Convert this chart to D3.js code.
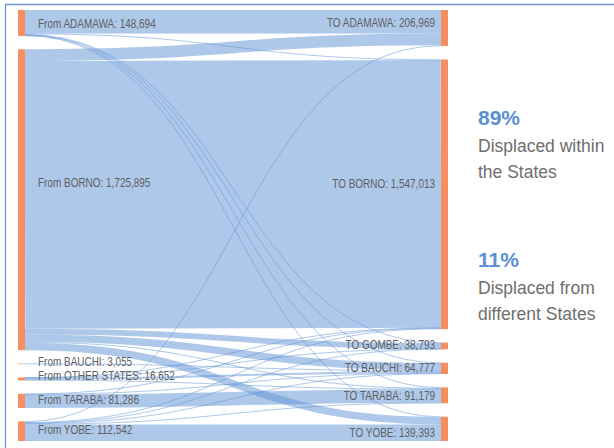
<!DOCTYPE html>
<html>
<head>
<meta charset="utf-8">
<script src="https://cdn.jsdelivr.net/npm/d3@7"></script>
<style>
  html, body { margin: 0; padding: 0; background: #fff; }
  svg { display: block; }
</style>
</head>
<body>
<svg id="chart" width="614" height="448"></svg>
<script>
// Origin states (left column) and their displaced populations
const originStates = ["ADAMAWA", "BORNO", "BAUCHI", "OTHER STATES", "TARABA", "YOBE"];
const originTotals = [148694, 1725895, 3055, 16652, 81286, 112542];

// Destination states (right column) and their displaced populations
const destStates = ["ADAMAWA", "BORNO", "GOMBE", "BAUCHI", "TARABA", "YOBE"];
const destTotals = [206969, 1547013, 38793, 64777, 91179, 139393];

// Flow matrix: one row per origin, one column per destination
const flowAdamawa = [135194, 3500, 2500, 2000, 3000, 2500];
const flowBorno   = [67275, 1535620, 33000, 42000, 6000, 42000];
const flowBauchi  = [0, 0, 0, 3055, 0, 0];
const flowOther   = [0, 1152, 1500, 12000, 2000, 0];
const flowTaraba  = [0, 2000, 0, 2000, 77286, 0];
const flowYobe    = [4500, 4741, 1793, 3722, 2893, 94893];
const flows = [flowAdamawa, flowBorno, flowBauchi, flowOther, flowTaraba, flowYobe];

// Summary call-outs on the right
const shareValues = ["89%", "11%"];
const shareLines = [["Displaced within", "the States"], ["Displaced from", "different States"]];

// ---- layout constants ----
const W = 614, H = 448;
const yTop = 10, yBottom = 441;
const nodeWidth = 7;
const nodePad = 13.4;
const labelFont = "'Liberation Sans', Arial, sans-serif";
const labelSqueeze = 0.81;   // narrow the node labels horizontally
const bodyFont = "'Liberation Sans', Arial, sans-serif";

const svg = d3.select("#chart");

// frame lines along the top and left edges
svg.append("path")
  .attr("d", `M5.5,${H} V4.5 H${W}`)
  .attr("fill", "none")
  .attr("stroke", "#6f97d6")
  .attr("stroke-width", 1.3);

const grand = d3.sum(originTotals);
const n = originStates.length;
const vScale = d3.scaleLinear().domain([0, grand]).range([0, (yBottom - yTop) - (n - 1) * nodePad]);
const xCol = d3.scaleLinear().domain([0, 1]).range([18, 441]);

function stack(totals) {
  let y = yTop;
  return totals.map(v => {
    const node = { value: v, y0: y, y1: y + vScale(v) };
    y = node.y1 + nodePad;
    return node;
  });
}
const left = stack(originTotals);
const right = stack(destTotals);
left.forEach((d, i) => { d.name = "From " + originStates[i]; d.x0 = xCol(0); d.x1 = xCol(0) + nodeWidth; });
right.forEach((d, i) => { d.name = "TO " + destStates[i]; d.x0 = xCol(1); d.x1 = xCol(1) + nodeWidth; });

// links: stacked at the source by destination order, at the target by origin order
const links = [];
flows.forEach((row, i) => row.forEach((v, j) => { if (v > 0) links.push({ s: i, t: j, value: v, width: vScale(v) }); }));
const srcOff = left.map(d => d.y0);
links.forEach(l => { l.ys = srcOff[l.s] + l.width / 2; srcOff[l.s] += l.width; });
const tgtOff = right.map(d => d.y0);
d3.range(destStates.length).forEach(j => {
  links.filter(l => l.t === j).sort((a, b) => a.s - b.s).forEach(l => {
    l.yt = tgtOff[j] + l.width / 2; tgtOff[j] += l.width;
  });
});

const linkGen = d3.linkHorizontal();
svg.append("g")
  .selectAll("path")
  .data(links)
  .join("path")
  .attr("d", l => linkGen({ source: [left[l.s].x1, l.ys], target: [right[l.t].x0, l.yt] }))
  .attr("fill", "none")
  .attr("stroke", "#5e92d6")
  .attr("stroke-opacity", 0.5)
  .attr("stroke-width", l => Math.max(1, l.width));

// nodes
svg.append("g")
  .selectAll("rect")
  .data(left.concat(right))
  .join("rect")
  .attr("x", d => d.x0)
  .attr("y", d => d.y0)
  .attr("width", nodeWidth)
  .attr("height", d => d.y1 - d.y0)
  .attr("fill", "#f68e60");

// node labels
const fmt = d3.format(",");
const leftNudge = [1, -17, -2, -3, -1, -2];
const rightNudge = [-5, -11, -1, -1, 0, 4];

svg.append("g")
  .selectAll("text")
  .data(left)
  .join("text")
  .attr("transform", (d, i) => `translate(38,${(d.y0 + d.y1) / 2 + leftNudge[i]}) scale(${labelSqueeze},1)`)
  .attr("dy", "0.35em")
  .attr("font-family", labelFont)
  .attr("font-size", 12.3)
  .attr("fill", "#5f5f5f")
  .text(d => `${d.name}: ${fmt(d.value)}`);

svg.append("g")
  .selectAll("text")
  .data(right)
  .join("text")
  .attr("transform", (d, i) => `translate(435,${(d.y0 + d.y1) / 2 + rightNudge[i]}) scale(${labelSqueeze},1)`)
  .attr("dy", "0.35em")
  .attr("text-anchor", "end")
  .attr("font-family", labelFont)
  .attr("font-size", 12.3)
  .attr("fill", "#5f5f5f")
  .text(d => `${d.name}: ${fmt(d.value)}`);

// summary call-outs
const calloutTop = [125, 267];
shareValues.forEach((v, k) => {
  const g = svg.append("g").attr("transform", `translate(478,${calloutTop[k]})`);
  g.append("text")
    .attr("font-family", bodyFont)
    .attr("font-weight", "bold")
    .attr("font-size", 21)
    .attr("fill", "#5b8fd2")
    .text(v);
  g.selectAll("text.line")
    .data(shareLines[k])
    .join("text")
    .attr("class", "line")
    .attr("y", (d, i) => 26.5 + i * 26)
    .attr("font-family", bodyFont)
    .attr("font-size", 17.5)
    .attr("fill", "#6e6e6e")
    .text(d => d);
});
</script>
</body>
</html>
